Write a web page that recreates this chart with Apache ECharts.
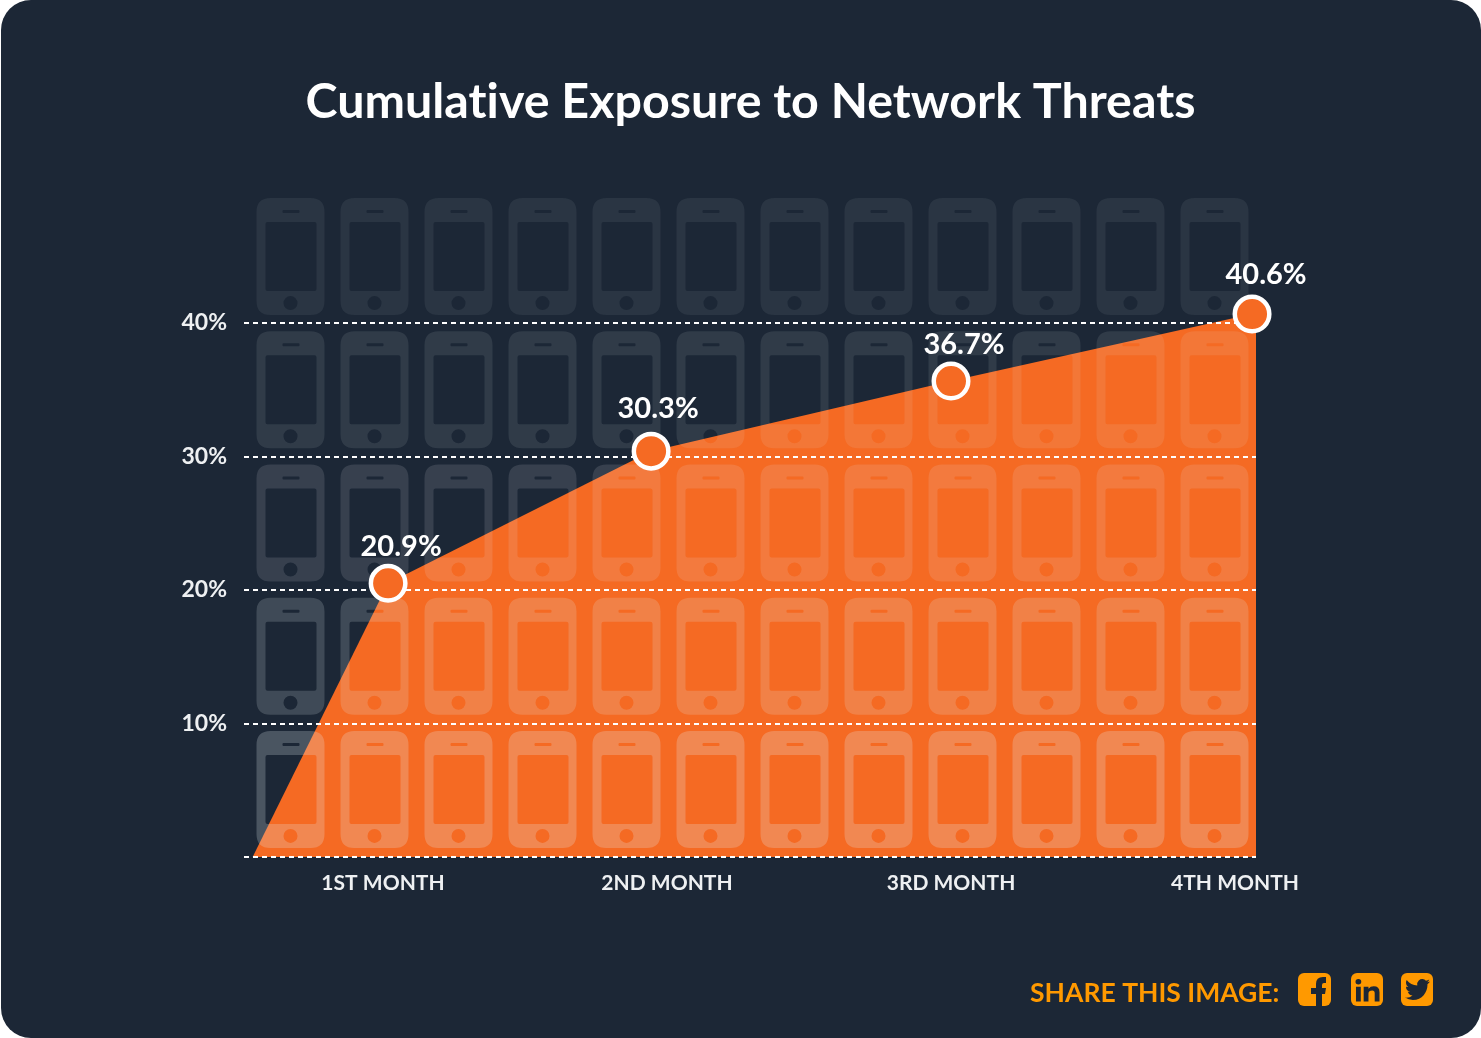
<!DOCTYPE html>
<html>
<head>
<meta charset="utf-8">
<title>Cumulative Exposure to Network Threats</title>
<script src="https://cdn.jsdelivr.net/npm/echarts@6/dist/echarts.min.js"></script>
<style>
  html, body { margin: 0; padding: 0; background: #fff; }
  #main { width: 1481px; height: 1038px; }
</style>
</head>
<body>
<div id="main"></div>
<script>
// months on the x axis (1 = 1st month)
var monthTicks = [1, 2, 3, 4];
var monthLabels = ['1ST MONTH', '2ND MONTH', '3RD MONTH', '4TH MONTH'];
var yTicks = [0, 10, 20, 30, 40];

// the markers do not sit quite on the months in the picture
var pointMonths = [1.018, 1.944, 3.0, 4.06];
var pointValues = [20.5, 30.4, 35.65, 40.67];
var pointLabels = ['20.9%', '30.3%', '36.7%', '40.6%'];

// area outline, from the foot of the curve to the right edge
var areaMonths = [0.541, 1.018, 1.944, 3.0, 4.06, 4.074];
var areaValues = [0, 20.5, 30.4, 35.65, 40.67, 40.67];

// pictogram background, 12 phones x 5 rows
var phoneCols = ['1', '2', '3', '4', '5', '6', '7', '8', '9', '10', '11', '12'];
var phoneRows = ['5', '4', '3', '2', '1'];
var rowOpacity = [0.23, 0.18, 0.135, 0.1, 0.07];

var BG = '#1c2736';
var ORANGE = '#f56a23';
var SHARE = '#ff9900';
var FONT = 'Lato';

// a tiny letter spacing keeps the browser from joining "ti" into a ligature
var getCtx = HTMLCanvasElement.prototype.getContext;
HTMLCanvasElement.prototype.getContext = function () {
  var ctx = getCtx.apply(this, arguments);
  if (ctx && 'letterSpacing' in ctx) ctx.letterSpacing = '0.01px';
  return ctx;
};

// body with screen, speaker and button cut out (holes run the other way round)
var phonePath = 'path://M14 0H54Q68 0 68 14V103Q68 117 54 117H14Q0 117 0 103V14Q0 0 14 0Z' +
  'M9 26V91Q9 93 11 93H58Q60 93 60 91V26Q60 24 58 24H11Q9 24 9 26Z' +
  'M26 13V14Q26 15 27 15H42Q43 15 43 14V13Q43 12 42 12H27Q26 12 26 13Z' +
  'M27 105A7 7 0 0 0 41 105A7 7 0 0 0 27 105Z';

var phoneData = [];
phoneRows.forEach(function (row, r) {
  phoneCols.forEach(function (col) {
    phoneData.push({ value: [col, row], itemStyle: { opacity: rowOpacity[r] } });
  });
});

var labelOffsets = [[13, -37], [7, -43], [13, -36], [14, -39]];

function zip(a, b) {
  return a.map(function (v, i) { return [v, b[i]]; });
}

var twitter = 'M23.953 4.57a10 10 0 0 1-2.825.775 4.958 4.958 0 0 0 2.163-2.723c-.951.555-2.005.959-3.127 1.184a4.92 4.92 0 0 0-8.384 4.482C7.69 8.095 4.067 6.13 1.64 3.162a4.822 4.822 0 0 0-.666 2.475c0 1.71.87 3.213 2.188 4.096a4.904 4.904 0 0 1-2.228-.616v.06a4.923 4.923 0 0 0 3.946 4.827 4.996 4.996 0 0 1-2.212.085 4.936 4.936 0 0 0 4.604 3.417 9.867 9.867 0 0 1-6.102 2.105c-.39 0-.779-.023-1.17-.067a13.995 13.995 0 0 0 7.557 2.209c9.053 0 13.998-7.496 13.998-13.985 0-.21 0-.42-.015-.63A9.935 9.935 0 0 0 24 4.59z';
// f running off the bottom of its tile
var facebook = 'M5 29V17H0V11H5V7Q5 0 12 0H15V6H13Q11 6 11 8V11H15L14 17H11V29Z';
var linkedin = 'M3 12H8V28H3ZM11 12H16V14Q18 11.5 21.5 11.5Q27.5 11.5 27.5 18V28H22.5V19Q22.5 16 20 16Q16 16 16 19.5V28H11ZM5.5 3.5A3 3 0 1 1 5.49 3.5Z';

function renderIcons() {
  function icon(d, x, y, w, h) {
    return { type: 'path', shape: { pathData: d, x: x, y: y, width: w, height: h, layout: 'cover' }, style: { fill: BG } };
  }
  return {
    type: 'group',
    children: [
      icon(facebook, 1311, 977, 15, 29),
      icon(linkedin, 1355.5, 979, 24, 22.5),
      icon(twitter, 1405, 979, 25, 21)
    ]
  };
}

var myChart = echarts.init(document.getElementById('main'));
myChart.setOption({
  animation: false,
  backgroundColor: '#fff',
  textStyle: { fontFamily: FONT },
  title: {
    text: 'Cumulative Exposure to Network Threats',
    left: 305.5,
    top: 72,
    padding: 0,
    textStyle: { color: '#fff', fontFamily: FONT, fontWeight: 'bold', fontSize: 48.4, lineHeight: 60 }
  },
  grid: [
    { left: 244, right: 225, top: 323, height: 534 },
    { left: 248.5, width: 1008, top: 190, height: 666 }
  ],
  xAxis: [
    {
      type: 'value',
      min: 0.5106,
      max: 4.0739,
      splitLine: { show: false },
      axisLine: { show: false },
      axisTick: { show: false },
      axisLabel: {
        customValues: monthTicks,
        margin: 16,
        color: '#eef0f2',
        fontFamily: FONT,
        fontWeight: 'bold',
        fontSize: 21,
        formatter: function (v) { return monthLabels[monthTicks.indexOf(v)] || ''; }
      }
    },
    { type: 'category', gridIndex: 1, data: phoneCols, show: false }
  ],
  yAxis: [
    {
      type: 'value',
      min: 0,
      max: 40,
      interval: 10,
      z: 5,
      axisLine: { show: false },
      axisTick: { show: false },
      axisLabel: {
        margin: 17,
        color: '#eef0f2',
        fontFamily: FONT,
        fontWeight: 'bold',
        fontSize: 23,
        formatter: function (v) { return v === yTicks[0] ? '' : v + '%'; }
      },
      splitLine: { lineStyle: { color: '#fff', width: 2, type: [5, 4] } }
    },
    { type: 'category', gridIndex: 1, data: phoneRows, show: false }
  ],
  series: [
    {
      type: 'line',
      z: 2,
      clip: false,
      data: zip(areaMonths, areaValues),
      showSymbol: false,
      lineStyle: { width: 0 },
      areaStyle: { color: ORANGE, opacity: 1 }
    },
    {
      type: 'scatter',
      z: 3,
      xAxisIndex: 1,
      yAxisIndex: 1,
      symbol: phonePath,
      symbolSize: [68, 117],
      silent: true,
      itemStyle: { color: '#e6ecf0' },
      data: phoneData
    },
    {
      type: 'line',
      z: 6,
      clip: false,
      lineStyle: { width: 0 },
      symbol: 'circle',
      symbolSize: 34.5,
      showAllSymbol: true,
      itemStyle: { color: ORANGE, borderColor: '#fff', borderWidth: 4.5, opacity: 1 },
      data: zip(pointMonths, pointValues).map(function (p, i) {
        return {
          value: p,
          label: {
            show: true,
            position: 'inside',
            offset: labelOffsets[i],
            formatter: pointLabels[i],
            color: '#fff',
            fontFamily: FONT,
            fontWeight: 'bold',
            fontSize: 29
          }
        };
      })
    },
    {
      type: 'custom',
      coordinateSystem: 'none',
      z: 8,
      silent: true,
      data: [0],
      renderItem: renderIcons
    }
  ],
  graphic: [
    { type: 'rect', z: -10, silent: true, shape: { x: 1, y: 0, width: 1480, height: 1038, r: 30 }, style: { fill: BG } },
    { type: 'text', x: 1030, y: 980, style: { text: 'SHARE THIS IMAGE:', fill: SHARE, font: 'bold 26.5px Lato' } },
    { type: 'rect', shape: { x: 1298, y: 973, width: 33, height: 33, r: 6 }, style: { fill: SHARE } },
    { type: 'rect', shape: { x: 1351, y: 973, width: 32, height: 33, r: 6 }, style: { fill: SHARE } },
    { type: 'rect', shape: { x: 1401, y: 973, width: 32, height: 33, r: 6 }, style: { fill: SHARE } }
  ]
});
</script>
</body>
</html>
